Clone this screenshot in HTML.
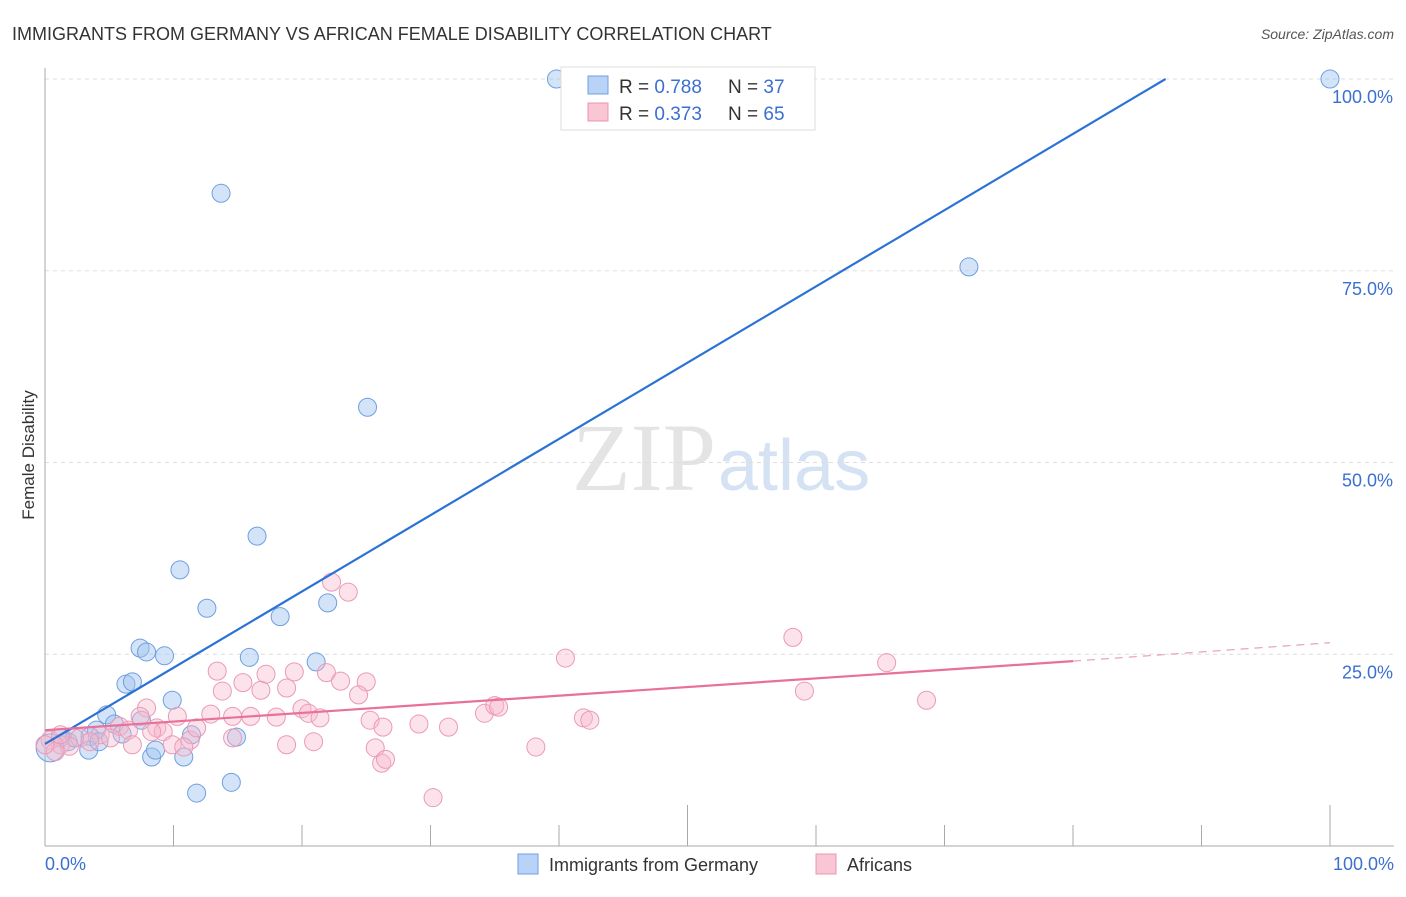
<!DOCTYPE html>
<html><head><meta charset="utf-8"><style>
body{margin:0;background:#fff;font-family:"Liberation Sans",sans-serif}
</style></head><body>
<svg width="1406" height="892" xmlns="http://www.w3.org/2000/svg" style="font-family:'Liberation Sans',sans-serif">
<text x="12" y="40" font-size="18" fill="#333">IMMIGRANTS FROM GERMANY VS AFRICAN FEMALE DISABILITY CORRELATION CHART</text>
<text x="1394" y="39" font-size="14" fill="#555" font-style="italic" text-anchor="end">Source: ZipAtlas.com</text>
<text x="716" y="490" font-size="96" fill="#e4e4e4" text-anchor="end" font-family="Liberation Serif">ZIP</text>
<text x="718" y="490" font-size="72" fill="#d4e2f4">atlas</text>
<g id="grid"></g>
<g id="axes"></g>
<g id="pts"></g>
<g id="lines"></g>
<text x="34" y="455" font-size="17" fill="#333" transform="rotate(-90 34 455)" text-anchor="middle">Female Disability</text>
<text x="45" y="870" font-size="18" fill="#3b6fd0">0.0%</text>
<text x="1394" y="870" font-size="18" fill="#3b6fd0" text-anchor="end">100.0%</text>
<g>
<rect x="561" y="67" width="254" height="63" fill="#fff" stroke="#ddd"/>
<rect x="588" y="76" width="20" height="18" fill="#b8d3f5" stroke="#6f9fe0"/>
<rect x="588" y="103" width="20" height="18" fill="#f9c6d6" stroke="#ec94b0"/>
<text x="619" y="93" font-size="19" fill="#333">R = <tspan fill="#3b6fd0">0.788</tspan></text>
<text x="728" y="93" font-size="19" fill="#333">N = <tspan fill="#3b6fd0">37</tspan></text>
<text x="619" y="120" font-size="19" fill="#333">R = <tspan fill="#3b6fd0">0.373</tspan></text>
<text x="728" y="120" font-size="19" fill="#333">N = <tspan fill="#3b6fd0">65</tspan></text>
</g>
<g>
<rect x="518" y="854" width="20" height="20" fill="#b8d3f5" stroke="#6f9fe0"/>
<text x="549" y="871" font-size="18" fill="#333">Immigrants from Germany</text>
<rect x="816" y="854" width="20" height="20" fill="#f9c6d6" stroke="#ec94b0"/>
<text x="847" y="871" font-size="18" fill="#333">Africans</text>
</g>
</svg>
<script>
const yTicks=[25,50,75,100];
const yTickLabels=["25.0%","50.0%","75.0%","100.0%"];
const xTicks=[10,20,30,40,50,60,70,80,90,100];
const blueX=[39.8,100,13.7,71.9,25.1,16.5,10.5,12.6,22.0,18.3,7.4,7.9,9.3,15.9,21.1,6.3,6.8,9.9,4.8,5.4,6.0,7.5,4.0,3.5,1.2,1.8,2.3,3.4,4.2,8.3,10.8,8.6,11.4,14.9,11.8,14.5,0.4];
const blueY=[100,100,85.1,75.5,57.2,40.4,36.0,31.0,31.7,29.9,25.8,25.3,24.8,24.6,24.0,21.1,21.4,19.0,17.1,15.9,14.6,16.4,15.1,14.3,14.1,13.6,14.1,12.5,13.6,11.6,11.6,12.5,14.5,14.2,6.9,8.3,12.8];
const pinkX=[22.3,23.6,13.4,17.2,19.4,13.8,15.4,16.8,18.8,21.9,23.0,25.0,24.4,7.9,7.4,10.3,12.9,14.6,16.0,18.0,20.0,20.5,21.4,25.3,8.7,9.2,5.8,6.5,11.3,11.8,8.3,6.8,9.9,10.8,14.6,18.8,20.9,25.7,26.2,0.4,1.2,2.7,4.3,1.9,40.5,58.2,59.1,68.6,65.5,30.2,29.1,31.4,34.2,35.0,35.3,38.2,41.9,42.4,26.3,26.5,0.8,3.5,5.1,1.2,0];
const pinkY=[34.4,33.1,22.8,22.4,22.7,20.2,21.3,20.3,20.6,22.6,21.5,21.4,19.7,18.0,16.9,16.9,17.2,16.9,16.9,16.8,17.9,17.3,16.7,16.4,15.4,14.9,15.6,15.1,13.8,15.4,14.9,13.2,13.2,12.9,14.1,13.2,13.6,12.8,10.8,13.8,13.2,14.1,14.5,13.0,24.5,27.2,20.2,19.0,23.9,6.3,15.9,15.5,17.3,18.3,18.1,12.9,16.7,16.4,15.5,11.3,12.3,13.6,14.1,14.5,13.2];
const blueTrend=[[0,13.3],[87.2,100]];
const pinkTrend=[[0,15.1],[80,24.1]];
const pinkTrendExt=[[80,24.1],[100,26.5]];
const NS="http://www.w3.org/2000/svg";
const X=v=>45+v*12.85, Y=v=>846-v*7.67;
function mk(t,a,p){const e=document.createElementNS(NS,t);for(const k in a)e.setAttribute(k,a[k]);p.appendChild(e);return e;}
const grid=document.getElementById('grid'),axes=document.getElementById('axes'),pts=document.getElementById('pts'),lines=document.getElementById('lines');
yTicks.forEach((t,i)=>{
 const l=mk('line',{x1:45,x2:1394,y1:Y(t),y2:Y(t),stroke:'#ddd','stroke-dasharray':'4,4'},grid);
 
 
 const tx=mk('text',{x:1393,y:Y(t)+24,'font-size':18,fill:'#3b6fd0','text-anchor':'end'},grid);
 tx.textContent=yTickLabels[i];
 
 
});
const ya=mk('line',{x1:45,x2:45,y1:68,y2:846,stroke:'#aaa'},axes);


const xa=mk('line',{x1:45,x2:1394,y1:846,y2:846,stroke:'#aaa'},axes);


xTicks.forEach(t=>{
 const tall=(t===50||t===100);
 const l=mk('line',{x1:X(t),x2:X(t),y1:tall?805:825,y2:846,stroke:'#aaa'},axes);
 
 
});
blueX.forEach((v,i)=>{
 const c=mk('circle',{cx:X(v),cy:Y(blueY[i]),r:(v<1?14:9),fill:'rgba(160,196,240,0.45)',stroke:'#6f9fe0','stroke-width':1},pts);
 
 
});
pinkX.forEach((v,i)=>{
 const c=mk('circle',{cx:X(v),cy:Y(pinkY[i]),r:9,fill:'rgba(248,184,204,0.4)',stroke:'#eb9ab4','stroke-width':1},pts);
 
 
});
const bl=mk('line',{x1:X(blueTrend[0][0]),y1:Y(blueTrend[0][1]),x2:X(blueTrend[1][0]),y2:Y(blueTrend[1][1]),stroke:'#2a72d6','stroke-width':2.2},lines);


const pl=mk('line',{x1:X(pinkTrend[0][0]),y1:Y(pinkTrend[0][1]),x2:X(pinkTrend[1][0]),y2:Y(pinkTrend[1][1]),stroke:'#e8709a','stroke-width':2.2},lines);


const pe=mk('line',{x1:X(pinkTrendExt[0][0]),y1:Y(pinkTrendExt[0][1]),x2:X(pinkTrendExt[1][0]),y2:Y(pinkTrendExt[1][1]),stroke:'#e8a0b8','stroke-width':1.2,'stroke-dasharray':'8,6'},lines);


</script>
</body></html>
